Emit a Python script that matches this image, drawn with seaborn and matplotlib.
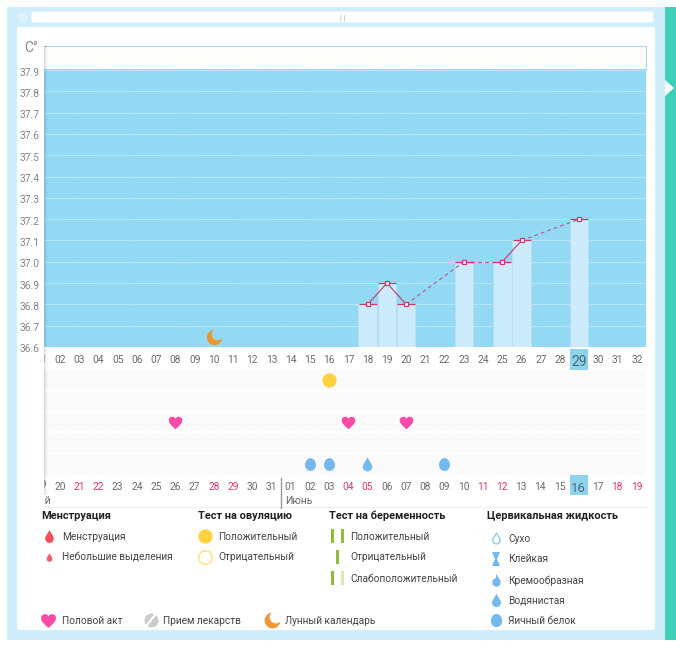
import numpy as np
import pandas as pd
import matplotlib
matplotlib.use("Agg")
import matplotlib.pyplot as plt
import seaborn as sns
from matplotlib.path import Path
from matplotlib.patches import Rectangle, FancyBboxPatch, Polygon
from matplotlib.transforms import ScaledTranslation

# values
temp_days = [18, 19, 20, 23, 25, 26, 29]
temps = [36.8, 36.9, 36.8, 37.0, 37.0, 37.1, 37.2]
y_ticks = [36.6, 36.7, 36.8, 36.9, 37.0, 37.1, 37.2, 37.3, 37.4, 37.5, 37.6, 37.7, 37.8, 37.9]
cycle_days = list(range(1, 33))
top_labels = ["%02d" % d for d in cycle_days]
date_labels = ["19", "20", "21", "22", "23", "24", "25", "26", "27", "28", "29", "30", "31",
               "01", "02", "03", "04", "05", "06", "07", "08", "09", "10", "11", "12",
               "13", "14", "15", "16", "17", "18", "19"]
red_dates = [3, 4, 10, 11, 17, 18, 24, 25, 31, 32]
today = 29
moon_day = [10]
moon_temp = [36.647]
ovul_days = [16]
ovul_rows = [1]
sex_days = [8, 17, 20]
sex_rows = [3, 3, 3]
egg_days = [15, 16, 22]
egg_rows = [5, 5, 5]
water_days = [18]
water_rows = [5]

W, H = 676, 646
sns.set_theme(style="white")
plt.rcParams["font.family"] = ["Roboto", "DejaVu Sans"]


def px_axes(x0, y0, x1, y1, **kw):
    return fig.add_axes([x0 / W, 1 - y1 / H, (x1 - x0) / W, (y1 - y0) / H], **kw)


def moon_path():
    a = np.radians(np.linspace(96, 354, 40))
    b = np.radians(np.linspace(318, 132, 30))
    xs = np.r_[np.cos(a), 0.42 + 0.78 * np.cos(b)]
    ys = np.r_[np.sin(a), 0.42 + 0.78 * np.sin(b)]
    return Path(np.c_[xs, ys])


def drop_path():
    a = np.radians(np.linspace(-35, 215, 40))
    xs = np.r_[0, 0.68 * np.cos(a), 0]
    ys = np.r_[1, -0.32 - 0.68 * np.sin(a), 1]
    return Path(np.c_[xs, ys], closed=True)


def egg_path():
    a = np.radians(np.linspace(0, 360, 50))
    return Path(np.c_[0.85 * np.cos(a) * (1 - 0.08 * np.sin(a)), np.sin(a)])


HEART = Path(
    [(0, -1), (-0.55, -0.5), (-1, -0.15), (-1, 0.3), (-1, 0.75), (-0.65, 0.85), (-0.45, 0.85),
     (-0.2, 0.85), (0, 0.65), (0, 0.5), (0, 0.65), (0.2, 0.85), (0.45, 0.85), (0.65, 0.85),
     (1, 0.75), (1, 0.3), (1, -0.15), (0.55, -0.5), (0, -1), (0, -1)],
    [Path.MOVETO] + [Path.CURVE4] * 18 + [Path.CLOSEPOLY],
)
MOON = moon_path()
DROP = drop_path()
EGG = egg_path()

fig = plt.figure(figsize=(W / 100, H / 100), dpi=100, facecolor="white")

# page chrome behind the chart
bg = px_axes(0, 0, W, H, zorder=0)
bg.set_xlim(0, W)
bg.set_ylim(H, 0)
bg.axis("off")
bg.add_patch(Rectangle((7, 7), 658, 633, fc="#CFEDFB", ec="none"))
bg.add_patch(Rectangle((665, 7), 11, 633, fc="#40D0BA", ec="none"))
bg.add_patch(Polygon([(665, 80), (674, 88), (665, 96)], fc="white", ec="none"))
bg.add_patch(FancyBboxPatch((20, 30), 632, 597, boxstyle="round,pad=3", fc="white", ec="none"))
bg.add_patch(FancyBboxPatch((34, 14), 617, 6, boxstyle="round,pad=2.5", fc="white", ec="none"))
bg.scatter([22], [17], s=55, color="#DDF2FC", linewidths=0)
bg.text(343, 18, "| |", ha="center", va="center", fontsize=5, color="#9AA5AA")
bg.add_patch(Rectangle((44, 45.5), 602, 24, fc="#FDFDFB", ec="none"))
bg.plot([44, 646, 646], [45.5, 45.5, 69.5], color="#A9D8EA", lw=0.8)

# temperature chart
ax = px_axes(44, 69.5, 646, 347, zorder=1)
ax.set_facecolor("#93D9F4")
sns.barplot(x=temp_days, y=temps, native_scale=True, width=0.96, color="#CBEBFB",
            saturation=1, edgecolor="#BBDDEE", linewidth=0.5, ax=ax, zorder=2)
for i in range(len(temp_days) - 1):
    gap = temp_days[i + 1] - temp_days[i]
    sns.lineplot(x=temp_days[i:i + 2], y=temps[i:i + 2], ax=ax, zorder=4, lw=0.9,
                 color="#C2487F" if gap == 1 else "#B0668F",
                 linestyle="-" if gap == 1 else (0, (3, 2.5)))
days_arr = np.array(temp_days)
ax.hlines(temps, days_arr - 0.47, days_arr + 0.47, color="#D8336F", lw=0.9, zorder=4)
sns.scatterplot(x=temp_days, y=temps, marker="s", s=9, color="white", edgecolor="#D8336F",
                linewidth=0.9, ax=ax, zorder=5)
sns.scatterplot(x=moon_day, y=moon_temp, marker=MOON, s=120, color="#E8962E", linewidth=0,
                ax=ax, zorder=5)
ax.set_xlim(1.168, 32.47)
ax.set_ylim(36.6, 37.9 + 0.5 / 21.3 * 0.1)
ax.set_yticks(y_ticks)
ax.set_yticklabels(["%.1f" % v for v in y_ticks], fontsize=7.4, color="#858585")
ax.set_xticks(cycle_days[1:])
ax.set_xticklabels(top_labels[1:], fontsize=7.3, color="#6A6A6A")
ax.tick_params(length=0, pad=6, axis="x")
ax.tick_params(length=0, pad=3, axis="y")
ax.grid(axis="y", color="white", lw=0.7, ls=(0, (1, 1)), alpha=0.7)
ax.set_axisbelow(True)
for s in ax.spines.values():
    s.set_visible(False)
ax.set_xlabel("")
ax.set_ylabel("")
ax.add_patch(Rectangle((today - 0.47, -23 / 277.5), 0.94, 21.5 / 277.5, fc="#8DD3EE", ec="none",
                       transform=ax.get_xaxis_transform(), clip_on=False, zorder=0.2))
for lab in ax.get_xticklabels():
    if lab.get_text() == "29":
        lab.set_fontsize(10)
        lab.set_color("#4A6A7A")
shift = ScaledTranslation(0, -1.5 / 100, fig.dpi_scale_trans)
for lab in ax.get_yticklabels():
    lab.set_transform(lab.get_transform() + shift)

# symptom rows under the chart
low = px_axes(44, 370, 646, 475, zorder=1)
low.set_facecolor("#FAFAFA")
sns.scatterplot(x=ovul_days, y=ovul_rows, marker="o", s=105, color="#FFD23F", linewidth=0, ax=low, zorder=3)
sns.scatterplot(x=sex_days, y=sex_rows, marker=HEART, s=95, color="#FB4BA6", linewidth=0, ax=low, zorder=3)
sns.scatterplot(x=egg_days, y=egg_rows, marker=EGG, s=85, color="#74B9EC", linewidth=0, ax=low, zorder=3)
sns.scatterplot(x=water_days, y=water_rows, marker=DROP, s=100, color="#74B9EC", linewidth=0, ax=low, zorder=3)
low.set_xlim(1.168, 32.47)
low.set_ylim(5.55, 0.5)
low.set_yticks(np.arange(1.5, 5.5))
low.set_yticklabels([])
low.set_xticks(cycle_days[1:])
low.set_xticklabels(date_labels[1:], fontsize=7.3, color="#6A6A6A")
low.set_xticks(np.arange(1.5, 33), minor=True)
low.tick_params(which="both", length=0, pad=5)
low.grid(which="major", axis="y", color="white", lw=1.2)
low.grid(which="minor", axis="x", color="white", lw=0.4)
low.set_axisbelow(True)
for s in low.spines.values():
    s.set_visible(False)
low.add_patch(Rectangle((today - 0.47, -20 / 105), 0.94, 20 / 105, fc="#8DD3EE", ec="none",
                        transform=low.get_xaxis_transform(), clip_on=False, zorder=0.2))
for lab, d in zip(low.get_xticklabels(), cycle_days[1:]):
    if d in red_dates:
        lab.set_color("#D9386F")
    if d == today:
        lab.set_fontsize(9.5)
        lab.set_color("#4A6A7A")

# text and legend overlay
fg = px_axes(0, 0, W, H, zorder=2)
fg.set_xlim(0, W)
fg.set_ylim(H, 0)
fg.axis("off")
fg.patch.set_alpha(0)
clip = Rectangle((44, 340), 100, 180, transform=fg.transData)
for txt, x, y in [("01", 40.8, 359), ("19", 40.8, 485)]:
    t = fg.text(x, y, txt, ha="center", va="center", fontsize=7.3, color="#6A6A6A")
    t.set_clip_on(True)
    t.set_clip_path(clip)
t = fg.text(51, 501, "Май", ha="right", va="center", fontsize=7.5, color="#666666")
t.set_clip_on(True)
t.set_clip_path(clip)
fg.text(285, 501, "Июнь", va="center", fontsize=7.5, color="#666666")
fg.plot([281, 281], [478, 508], color="#999999", lw=1)
fg.plot([44, 646], [506.5, 506.5], color="#EFEFEF", lw=0.8, zorder=0)
fg.text(24, 48, "C°", va="center", fontsize=10, color="#8A8A8A")
# soft shadow along the fixed y axis panel
shade = np.zeros((1, 8, 4))
shade[..., 3] = np.linspace(0.13, 0, 8)
fg.imshow(shade, extent=(44, 48, 495, 45), aspect="auto", interpolation="bilinear")
fg.set_xlim(0, W)
fg.set_ylim(H, 0)

HEAD = dict(fontsize=7.9, color="#222222", fontweight="bold", va="center")
ITEM = dict(fontsize=7.3, color="#444444", va="center")
for txt, x in [("Менструация", 41), ("Тест на овуляцию", 198), ("Тест на беременность", 329),
               ("Цервикальная жидкость", 487)]:
    fg.text(x, 516, txt, **HEAD)
for txt, x, y in [("Менструация", 62, 536), ("Небольшие выделения", 62, 557),
                  ("Положительный", 218, 536), ("Отрицательный", 218, 557),
                  ("Положительный", 350, 536), ("Отрицательный", 350, 557),
                  ("Слабоположительный", 350, 578),
                  ("Сухо", 508, 538), ("Клейкая", 508, 559), ("Кремообразная", 508, 580),
                  ("Водянистая", 508, 600), ("Яичный белок", 508, 620),
                  ("Половой акт", 62, 620), ("Прием лекарств", 163, 620),
                  ("Лунный календарь", 285, 620)]:
    fg.text(x, y + 0.5, txt, **ITEM)

fg.scatter([49], [536], marker=DROP, s=85, color="#F4505A", linewidths=0)
fg.scatter([49], [557], marker=DROP, s=38, color="#F0606A", linewidths=0)
fg.scatter([204.5], [536], s=105, color="#FFD23F", linewidths=0)
fg.scatter([204.5], [557], s=95, color="white", edgecolor="#FFE27A", linewidths=1)
for x, y, c in [(332, 536, "#8FBB3F"), (342, 536, "#8FBB3F"), (337, 557, "#8FBB3F"),
                (332, 578, "#8FBB3F"), (342, 578, "#DDE8B8")]:
    fg.add_patch(Rectangle((x - 1.5, y - 7), 3, 14, fc=c, ec="none"))
fg.scatter([496], [538], marker=DROP, s=60, color="white", edgecolor="#8CC4E8", linewidths=0.9)
fg.add_patch(Polygon([(492, 552), (500, 552), (497, 559), (500, 566), (492, 566), (495, 559)],
                     fc="#74B9EC", ec="none"))
fg.scatter([496], [580], marker=DROP, s=80, color="#74B9EC", linewidths=0)
fg.scatter([493], [576], s=14, color="white", linewidths=0)
fg.scatter([496], [600], marker=DROP, s=90, color="#74B9EC", linewidths=0)
fg.scatter([496], [620], marker=EGG, s=90, color="#74B9EC", linewidths=0)
fg.scatter([48], [620], marker=HEART, s=115, color="#FB4BA6", linewidths=0)
fg.scatter([151], [620], s=100, color="#CCCCCC", linewidths=0)
fg.plot([147, 155], [625, 615], color="white", lw=1.6)
fg.scatter([272], [620], marker=MOON, s=130, color="#F0983A", linewidths=0)

fig.savefig("out.png", dpi=100)
